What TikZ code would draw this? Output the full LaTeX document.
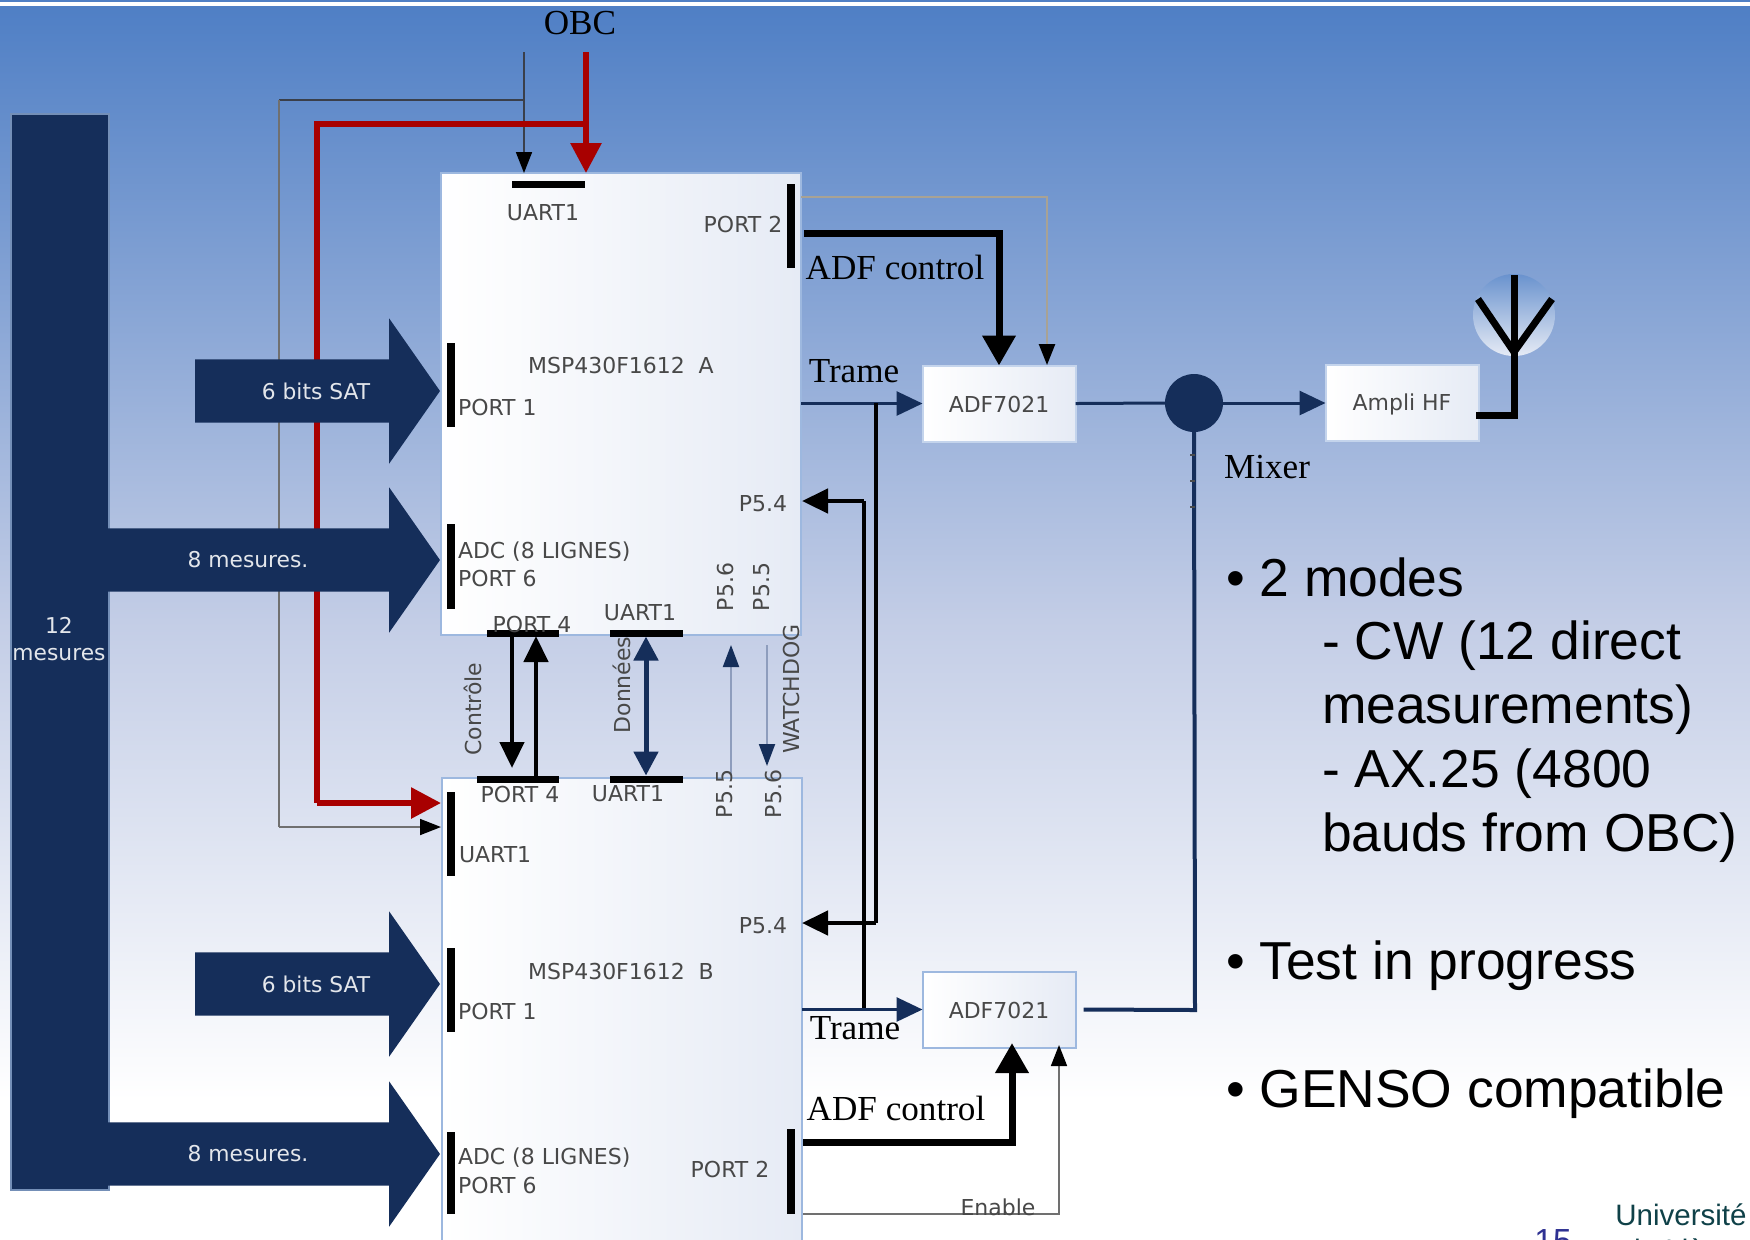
\documentclass[tikz,border=0pt]{standalone}
\usepackage{fontspec}
\usepackage{xcolor}
\setmainfont{Liberation Sans}
\newfontfamily\diagfont{DejaVu Sans}
\newfontfamily\captionfont{Liberation Serif}
\usetikzlibrary{positioning, shapes.arrows, arrows.meta}
\definecolor{navy}{HTML}{152E5A}
\definecolor{skytop}{HTML}{4F7FC5}
\definecolor{skymid}{HTML}{C3CDE6}
\definecolor{boxedge}{HTML}{E6EBF5}
\definecolor{boxline}{HTML}{9DB8DF}
\definecolor{labelgray}{HTML}{484848}
\definecolor{wirered}{HTML}{A80000}
\definecolor{wiredark}{HTML}{3A3F4A}
\definecolor{wiregray}{HTML}{707070}
\definecolor{wiretan}{HTML}{A8A294}
\definecolor{wireblue}{HTML}{8E9DBD}
\definecolor{unigreen}{HTML}{0F4148}
\definecolor{pagenum}{HTML}{2E3192}

\begin{document}
\begin{tikzpicture}[
    x=0.1mm, y=-0.1mm,
    every node/.style={inner sep=0pt, outer sep=0pt},
    micro/.style={
        rectangle,
        anchor=north west,
        draw=boxline,
        line width=0.2mm,
        left color=white,
        right color=boxedge,
        minimum width=36mm
    },
    radio/.style={
        rectangle,
        draw=boxline!60!white,
        line width=0.2mm,
        left color=white,
        right color=boxedge,
        minimum width=15.3mm,
        minimum height=7.6mm
    },
    portv/.style={fill=black, minimum width=0.75mm, minimum height=#1},
    porth/.style={fill=black, minimum height=0.7mm, minimum width=#1},
    bigarrow/.style={
        single arrow,
        anchor=tip,
        fill=navy,
        text height=6.2mm,
        text depth=0pt,
        single arrow head extend=4.1mm,
        single arrow tip angle=110,
        minimum width=14.4mm,
        minimum height=#1
    },
    small/.style={font=\diagfont\fontsize{6.25}{7.5}\selectfont, text=labelgray, yshift=-0.1mm},
    onnavy/.style={font=\diagfont\fontsize{6.2}{7.5}\selectfont, text=white!88!navy, align=center},
    caption/.style={font=\captionfont\fontsize{10}{12}\selectfont, text=black},
    bullet/.style={anchor=west, font=\fontsize{15.2}{18.2}\selectfont, text=black, align=left},
    heavy/.style={-{Triangle[length=3mm,width=3.2mm]}, line width=0.7mm},
    medium/.style={-{Triangle[length=2.6mm,width=2.4mm]}, line width=0.45mm},
    fine/.style={-{Triangle[length=2.1mm,width=1.6mm,color=black]}, line width=0.17mm},
    redline/.style={-{Triangle[length=3mm,width=3mm]}, line width=0.6mm, wirered},
    navyline/.style={-{Triangle[length=2.6mm,width=2.4mm]}, line width=0.3mm, navy},
    sideline/.style={-{Triangle[length=2.2mm,width=1.6mm,color=navy]}, line width=0.2mm, wireblue}
]

\useasboundingbox (0,0) rectangle (1750,1239);
\clip (0,0) rectangle (1750,1239);

% Fond
\fill[white] (0,0) rectangle (1750,1239);
\shade[top color=skytop, bottom color=skymid] (0,6) rectangle (1750,621);
\shade[top color=skymid, bottom color=white] (0,620) rectangle (1750,1100);
\fill[skytop] (0,0) rectangle (1750,2);

% Blocs
\node[micro, minimum height=46.2mm] (mspA) at (441,173) {};
\node[micro, minimum height=60mm] (mspB) at (442,778) {};
\node[radio] (adfA) at (999,403.5) {};
\node[radio, draw=boxline] (adfB) at (999,1009.5) {};
\node[radio] (ampli) at (1402,403) {};
\node[rectangle, fill=navy, draw=boxline!70!navy, line width=0.15mm, minimum width=9.8mm, minimum height=107.6mm] (mesures) at (60,652) {};
\node[circle, fill=navy, minimum size=5.8mm] (mixer) at (1194,403) {};
\node[circle, top color=skytop!85!white, bottom color=boxedge, minimum size=8.2mm] (antenne) at (1514,315) {};

% Ports
\node[porth=7.3mm] (uartA) at (548,184) {};
\node[portv=8.4mm] (portdeuxA) at (791,226) {};
\node[portv=8.4mm] (portunA) at (451,385) {};
\node[portv=8.5mm] (portsixA) at (451,566) {};
\node[porth=7.2mm] (portquatreA) at (523,633) {};
\node[porth=7.3mm] (uartbasA) at (646,633) {};
\node[porth=8.2mm] (portquatreB) at (518,779) {};
\node[porth=7.3mm] (uarthautB) at (646,779) {};
\node[portv=8.4mm] (uartB) at (451,834) {};
\node[portv=8.4mm] (portunB) at (451,990) {};
\node[portv=8.2mm] (portsixB) at (451,1173) {};
\node[portv=8.5mm] (portdeuxB) at (791,1171) {};

% Points libres
\coordinate (obcgris) at (524,52);
\coordinate (obcrouge) at (586,52);
\coordinate (trameA) at (864,501);
\coordinate (trameB) at (876,923);

% OBC -> UART1 des deux blocs
\draw[fine, draw=wiredark] (obcgris) -- (obcgris |- mspA.north);
\draw[line width=0.17mm, wiredark] (obcgris |- 0,100) -- (279,100);
\draw[line width=0.17mm, wiregray] (279,100) -- (279,827);
\draw[fine, draw=wiregray] (279,827) -- (441,827);
\draw[redline] (obcrouge) -- (obcrouge |- mspA.north);
\draw[line width=0.55mm, wirered] (obcrouge |- 0,124) -- (317,124) -- (317,803);
\draw[redline] (317,803) -- (441,803);

% Grandes fleches
\node[bigarrow=24.5mm] (satA) at (440,391) {};
\node[bigarrow=33.2mm] (huitA) at (440,560) {};
\node[bigarrow=24.5mm] (satB) at (440,984) {};
\node[bigarrow=33.2mm] (huitB) at (440,1154) {};

% Liens entre les deux blocs
\draw[medium] (512,636) -- (512,768);
\draw[medium] (536,776) -- (536,636);
\draw[{Triangle[length=2.4mm,width=2.4mm]}-{Triangle[length=2.4mm,width=2.4mm]}, line width=0.5mm, navy] (uartbasA.south) -- (uarthautB.north);
\draw[sideline] (731,775) -- (731,645);
\draw[sideline] (767,645) -- (767,766);

% Vers ADF A
\draw[line width=0.3mm, navy] (adfA.east) -- (mixer.west);
\draw[navyline] (mixer.east) -- (ampli.west);
\draw[navyline] (mspA.east |- adfA.west) -- (adfA.west);
\draw[heavy] (804,233) -| (adfA.north);
\draw[fine, line width=0.25mm, draw=wiretan] (mspA.east |- 0,197) -| (1047,365);

% Retour trames vers P5.4
\draw[medium] (trameA) -- (802,501);
\draw[line width=0.45mm] (trameA) -- (864,1009);
\draw[medium] (trameB) -- (802,923);
\draw[line width=0.45mm] (trameB) -- (876,403);

% Vers ADF B
\draw[navyline] (mspB.east |- adfB.west) -- (adfB.west);
\draw[heavy] (803,1142) -| (1012,1043);
\draw[fine, draw=wiregray] (803,1214) -| (1059,1045);
\draw[line width=0.4mm, navy] ([xshift=0.8mm]adfB.east) -- (1195,1010) -- (mixer.south);
\foreach \ytick in {455,481,507} {
    \draw[line width=0.15mm, black!70] (1190,\ytick) -- (1195,\ytick);
}

% Antenne
\draw[line width=0.7mm] (1476,415) -- (1514,415) -- (1514,275);
\draw[line width=0.7mm] (1478,299) -- (1514,352) -- (1552,299);

% Textes des blocs
\node[small] (adfAtxt) at (adfA) {ADF7021};
\node[small] (adfBtxt) at (adfB) {ADF7021};
\node[small] (amplitxt) at (ampli) {Ampli HF};
\node[onnavy] (mesurestxt) at (59,639) {12\\mesures};
\node[onnavy] (satAtxt) at (316,391) {6 bits SAT};
\node[onnavy] (huitAtxt) at (248,560) {8 mesures.};
\node[onnavy] (satBtxt) at (316,984) {6 bits SAT};
\node[onnavy] (huitBtxt) at (248,1154) {8 mesures.};

\node[small] (nomA) at (621,364) {MSP430F1612\ \ A};
\node[small] (nomB) at (621,970) {MSP430F1612\ \ B};
\node[small] (luartA) at (543,212) {UART1};
\node[small] (lportdeuxA) at (743,223) {PORT 2};
\node[small, anchor=west] (lportunA) at (458,406) {PORT 1};
\node[small, anchor=west] (ladcA) at (458,551) {ADC (8 LIGNES)};
\node[small, anchor=west] (lportsixA) at (458,577) {PORT 6};
\node[small] (lpcinqA) at (763,503) {P5.4};
\node[small, rotate=90] (lpsixA) at (725,586) {P5.6};
\node[small, rotate=90] (lpcinqcinqA) at (762,586) {P5.5};
\node[small] (lportquatreA) at (532,623) {PORT 4};
\node[small] (luartbasA) at (640,612) {UART1};
\node[small, rotate=90] (controle) at (473,708) {Contrôle};
\node[small, rotate=90] (donnees) at (622,684) {Données};
\node[small, rotate=90] (watchdog) at (791,688) {WATCHDOG};
\node[small] (lportquatreB) at (520,793) {PORT 4};
\node[small] (luarthautB) at (628,793) {UART1};
\node[small, rotate=90] (lpcinqcinqB) at (725,793) {P5.5};
\node[small, rotate=90] (lpsixB) at (773,793) {P5.6};
\node[small, anchor=west] (luartB) at (459,854) {UART1};
\node[small] (lpcinqB) at (763,925) {P5.4};
\node[small, anchor=west] (lportunB) at (458,1010) {PORT 1};
\node[small, anchor=west] (ladcB) at (458,1157) {ADC (8 LIGNES)};
\node[small, anchor=west] (lportsixB) at (458,1184) {PORT 6};
\node[small] (lportdeuxB) at (730,1168) {PORT 2};
\node[small] (enable) at (998,1206) {Enable};

% Legendes
\node[caption] (obc) at (580,23) {OBC};
\node[caption] (controlA) at (895,267) {ADF control};
\node[caption] (controlB) at (896,1108) {ADF control};
\node[caption] (trametxtA) at (854,371) {Trame};
\node[caption] (trametxtB) at (855,1028) {Trame};
\node[caption] (mixertxt) at (1267,467) {Mixer};

% Texte de droite
\node[bullet] (modes) at (1226,577) {• 2 modes};
\node[bullet, anchor=north west] (detail) at (1322,621) {- CW (12 direct\\measurements)\\- AX.25 (4800\\bauds from OBC)};
\node[bullet] (test) at (1226,966) {• Test in progress};
\node[bullet] (genso) at (1226,1094) {• GENSO compatible};

% Pied de page
\node[font=\fontsize{8.4}{10}\selectfont, text=unigreen, align=center] (univ) at (1681,1235) {Université\\de Liège};
\node[font=\fontsize{9.5}{11}\selectfont, text=pagenum] (page) at (1553,1241) {15};

\end{tikzpicture}
\end{document}
